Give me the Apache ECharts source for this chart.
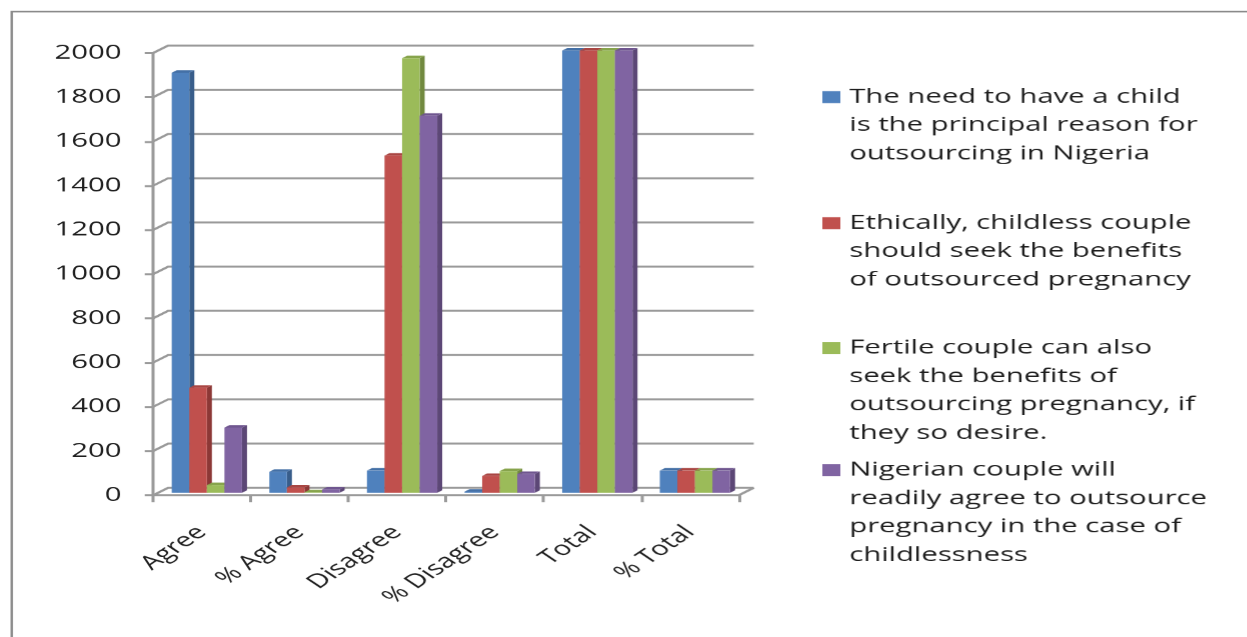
<!DOCTYPE html>
<html>
<head>
<meta charset="utf-8">
<script src="https://cdn.jsdelivr.net/npm/echarts@6/dist/echarts.min.js"></script>
<style>
  html, body { margin: 0; padding: 0; background: #ffffff; overflow: hidden; }
  /* The chart is laid out on a narrower canvas and widened 1.5x, like a stretched Excel chart */
  #chart {
    position: absolute; left: 0; top: 0;
    width: 831.333px; height: 637px;
    transform: scaleX(1.5); transform-origin: 0 0;
  }
</style>
</head>
<body>
<div id="chart"></div>
<script>
// ---- data ----
const categories = ['Agree', '% Agree', 'Disagree', '% Disagree', 'Total', '% Total'];

const needChild      = [1900, 95, 100, 5, 2000, 100];
const ethicalSeek    = [475, 24, 1525, 76, 2000, 100];
const fertileSeek    = [35, 2, 1965, 98, 2000, 100];
const readilyAgree   = [295, 15, 1705, 85, 2000, 100];

const seriesNames = [
  'The need to have a child is the principal reason for outsourcing in Nigeria',
  'Ethically, childless couple should seek the benefits of outsourced pregnancy',
  'Fertile couple can also seek the benefits of outsourcing pregnancy, if they so desire.',
  'Nigerian couple will readily agree to outsource pregnancy in the case of childlessness'
];
const legendLines = [
  ['The need to have a child', 'is the principal reason for', 'outsourcing in Nigeria'],
  ['Ethically, childless couple', 'should seek the benefits', 'of outsourced pregnancy'],
  ['Fertile couple can also', 'seek the benefits of', 'outsourcing pregnancy, if', 'they so desire.'],
  ['Nigerian couple will', 'readily agree to outsource', 'pregnancy in the case of', 'childlessness']
];
const yTicks = [0, 200, 400, 600, 800, 1000, 1200, 1400, 1600, 1800, 2000];

// ---- styling ----
const seriesValues = [needChild, ethicalSeek, fertileSeek, readilyAgree];
const frontColors = ['#4F81BD', '#C0504D', '#9BBB59', '#8064A2'];
const topColors   = ['#4470A6', '#A94643', '#87A44C', '#6F568F'];
const sideColors  = ['#385D8A', '#8C3836', '#71893F', '#5C4776'];
const FONT = '"Open Sans", "Noto Sans", sans-serif';
const TEXT = '#1e1e1e';
const GRID_COLOR = '#9a9a9a';

// depth of the chart box (wall offset) in canvas units
const DEPTH = { x: 10, y: -7.5 };
const BAR_START = 0.14;   // fraction of the band before the first bar
const BAR_W = 0.18;       // fraction of the band per bar

const chart = echarts.init(document.getElementById('chart'), null, {
  renderer: 'canvas', devicePixelRatio: 1.5
});

// back wall / floor lines for each y tick
function renderWall(params, api) {
  const v = api.value(1);
  const p0 = api.coord([0, v]);
  const band = api.size([1, 0])[0];
  const x0 = p0[0] - band / 2;
  const x1 = api.coord([categories.length - 1, v])[0] + band / 2;
  const y = p0[1];
  const style = { stroke: GRID_COLOR, lineWidth: 2, fill: null };
  const children = [
    { type: 'polyline', shape: { points: [[x0, y], [x0 + DEPTH.x, y + DEPTH.y], [x1 + DEPTH.x, y + DEPTH.y]] }, style: style, silent: true }
  ];
  if (v === 0) {
    children.push({ type: 'line', shape: { x1: x1, y1: y, x2: x1 + DEPTH.x, y2: y + DEPTH.y }, style: style, silent: true });
  }
  return { type: 'group', children: children };
}

// a 3D-looking column: front face, top face and right side face
function makeBarRenderer(si) {
  return function (params, api) {
    const cat = api.value(0);
    const val = api.value(1);
    const band = api.size([1, 0])[0];
    const base = api.coord([cat, 0]);
    const top = api.coord([cat, val]);
    const ox = DEPTH.x / 3, oy = DEPTH.y / 3;   // bars sit in the middle third of the depth
    const dx = DEPTH.x / 3, dy = DEPTH.y / 3;
    const xl = base[0] - band / 2 + band * (BAR_START + si * BAR_W) + ox;
    const xr = xl + band * BAR_W;
    const yb = base[1] + oy;
    const yt = top[1] + oy;
    return {
      type: 'group',
      children: [
        { type: 'polygon', shape: { points: [[xr, yb], [xr + dx, yb + dy], [xr + dx, yt + dy], [xr, yt]] },
          style: { fill: sideColors[si] } },
        { type: 'polygon', shape: { points: [[xl, yt], [xr, yt], [xr + dx, yt + dy], [xl + dx, yt + dy]] },
          style: { fill: topColors[si] } },
        { type: 'rect', shape: { x: xl, y: yt, width: xr - xl, height: yb - yt },
          style: { fill: frontColors[si] } }
      ]
    };
  };
}

const series = [{
  type: 'custom',
  name: 'wall',
  renderItem: renderWall,
  data: yTicks.map(function (t) { return [0, t]; }),
  encode: { x: 0, y: 1 },
  z: 1,
  silent: true
}];
seriesValues.forEach(function (vals, si) {
  series.push({
    type: 'custom',
    name: seriesNames[si],
    renderItem: makeBarRenderer(si),
    data: vals.map(function (v, i) { return [i, v]; }),
    encode: { x: 0, y: 1 },
    itemStyle: { color: frontColors[si] },
    z: 3
  });
});

// legend drawn as marker + wrapped text blocks
const legendTops = [91, 217, 342, 464];
const LINE_H = 28.3;
const graphics = [
  { type: 'rect', left: 5.3, top: 9, shape: { width: 824.7, height: 640 },
    style: { fill: null, stroke: '#8a8a8a', lineWidth: 1.6 }, silent: true }
];
legendLines.forEach(function (lines, i) {
  graphics.push({
    type: 'rect', x: 548, y: legendTops[i],
    shape: { width: 12, height: 12 },
    style: { fill: frontColors[i] }
  });
  graphics.push({
    type: 'text', x: 566, y: legendTops[i] + 6 - LINE_H / 2,
    style: {
      text: lines.join('\n'),
      fontFamily: FONT, fontSize: 19.5, lineHeight: LINE_H,
      fill: TEXT, verticalAlign: 'top', align: 'left'
    }
  });
});

chart.setOption({
  animation: false,
  backgroundColor: '#ffffff',
  grid: { left: 102, right: 338.7, top: 53, bottom: 142, containLabel: false },
  xAxis: {
    type: 'category',
    data: categories,
    boundaryGap: true,
    axisLine: { show: true, lineStyle: { color: GRID_COLOR, width: 2 } },
    axisTick: { show: true, length: 7, lineStyle: { color: GRID_COLOR, width: 2 } },
    axisLabel: {
      rotate: 45, margin: 34, interval: 0,
      fontFamily: FONT, fontSize: 19.5, color: TEXT
    },
    splitLine: { show: false }
  },
  yAxis: {
    type: 'value',
    min: 0, max: 2000, interval: 200,
    axisLine: { show: true, lineStyle: { color: GRID_COLOR, width: 2 } },
    axisTick: { show: true, length: 5.5, lineStyle: { color: GRID_COLOR, width: 2 } },
    axisLabel: {
      margin: 21, fontFamily: FONT, fontSize: 19.5, color: TEXT,
      formatter: function (v) { return String(v); }
    },
    splitLine: { show: false }
  },
  graphic: graphics,
  series: series
});
</script>
</body>
</html>
